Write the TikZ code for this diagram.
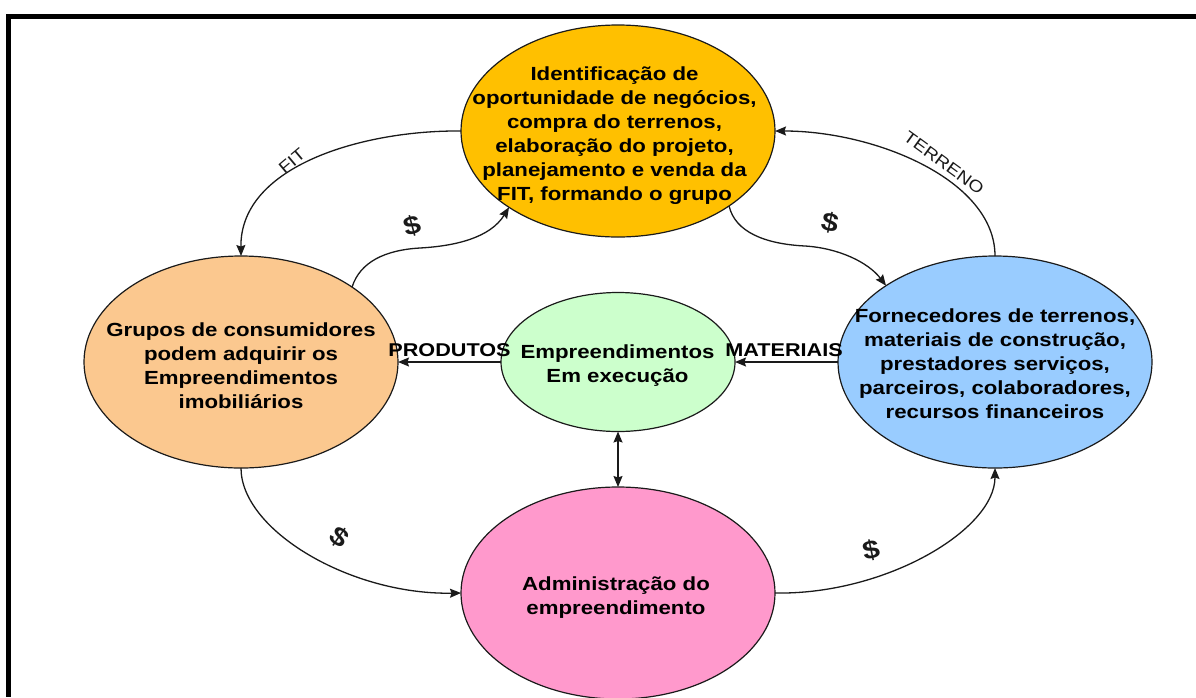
\documentclass[tikz,border=0pt]{standalone}
\usepackage{fontspec}
\setmainfont{Liberation Sans}
\newfontfamily\widefont[FakeStretch=1.17]{Liberation Sans}
\usetikzlibrary{shapes.geometric,arrows.meta}
\definecolor{cyellow}{HTML}{FFC000}
\definecolor{corange}{HTML}{FBC88F}
\definecolor{cblue}{HTML}{99CCFF}
\definecolor{cgreen}{HTML}{CCFFCC}
\definecolor{cpink}{HTML}{FF99CC}
\definecolor{cline}{HTML}{1A1A1A}
\tikzset{
  every node/.style={inner sep=0pt,outer sep=0pt},
  bubble/.style={ellipse,draw=cline,line width=1.2pt},
  bubbletext/.style={align=center,font=\widefont\fontsize{19}{24}\selectfont\bfseries},
  flow/.style={draw=cline,line width=1.3pt,-{Stealth[length=11pt,width=9pt,inset=1.5pt]}},
  bothways/.style={draw=cline,line width=1.3pt,{Stealth[length=11pt,width=9pt,inset=1.5pt]}-{Stealth[length=11pt,width=9pt,inset=1.5pt]}},
  tag/.style={font=\widefont\fontsize{16.5}{20}\selectfont,text=cline},
  boldtag/.style={font=\widefont\fontsize{18.5}{22}\selectfont\bfseries},
  money/.style={font=\widefont\fontsize{26}{26}\selectfont\bfseries,text=cline}
}
\begin{document}
\begin{tikzpicture}[x=1pt,y=-1pt]
\useasboundingbox (0,0) rectangle (1196,697);
\draw[line width=5pt,black] (1196,16.5) -- (8.5,16.5) -- (8.5,697);
\begin{scope}
\clip (0,0) rectangle (1196,697);
\node[bubble,fill=cyellow,minimum width=314pt,minimum height=212pt] (top) at (618,131) {};
\node[bubble,fill=corange,minimum width=314pt,minimum height=212pt] (left) at (241,362) {};
\node[bubble,fill=cblue,minimum width=314pt,minimum height=212pt] (right) at (995,362) {};
\node[bubble,fill=cgreen,minimum width=234pt,minimum height=139pt] (mid) at (618,362) {};
\node[bubble,fill=cpink,minimum width=314pt,minimum height=212pt] (bot) at (618,593) {};
\end{scope}
\node[bubbletext] (toptext) at (614.5,135.5)
 {Identificação de\\oportunidade de negócios,\\compra do terrenos,\\elaboração do projeto,\\planejamento e venda da\\FIT, formando o grupo};
\node[bubbletext] (lefttext) at (241,365.5)
 {Grupos de consumidores\\podem adquirir os\\Empreendimentos\\imobiliários};
\node[bubbletext] (righttext) at (995,364)
 {Fornecedores de terrenos,\\materiais de construção,\\prestadores serviços,\\parceiros, colaboradores,\\recursos financeiros};
\node[bubbletext] (midtext) at (617.5,365.5) {Empreendimentos\\Em execução};
\node[bubbletext] (bottext) at (616,598) {Administração do\\empreendimento};
\draw[flow] (top.180) .. controls (365,130) and (240,165) .. (left.90);
\draw[flow] (right.90) .. controls (995,180) and (875,131) .. (top.0);
\draw[flow] (left.34) .. controls (360,262) and (385,250) .. (420,248) .. controls (455,246) and (490,238) .. (top.215.5);
\draw[flow] (top.-34.4) .. controls (735,232) and (765,244) .. (805,246) .. controls (838,248) and (868,262) .. (right.145.5);
\draw[flow] (left.-90) .. controls (241,530) and (350,595) .. (bot.180);
\draw[flow] (bot.0) .. controls (885,595) and (995,530) .. (right.-90);
\draw[flow] (mid.180) -- (left.0);
\draw[flow] (right.180) -- (mid.0);
\draw[bothways] (mid.-90) -- (bot.90);
\node[tag,rotate=40] (fit) at (292,161) {FIT};
\node[tag,rotate=-36] (terreno) at (944,163) {TERRENO};
\node[boldtag] (produtos) at (449.5,350) {PRODUTOS};
\node[boldtag] (materiais) at (784,350) {MATERIAIS};
\node[money,rotate=15] (s1) at (412,226) {\$};
\node[money,rotate=-12] (s2) at (830,223) {\$};
\node[money,rotate=-35] (s3) at (339,537) {\$};
\node[money,rotate=12] (s4) at (871,550) {\$};
\end{tikzpicture}
\end{document}
